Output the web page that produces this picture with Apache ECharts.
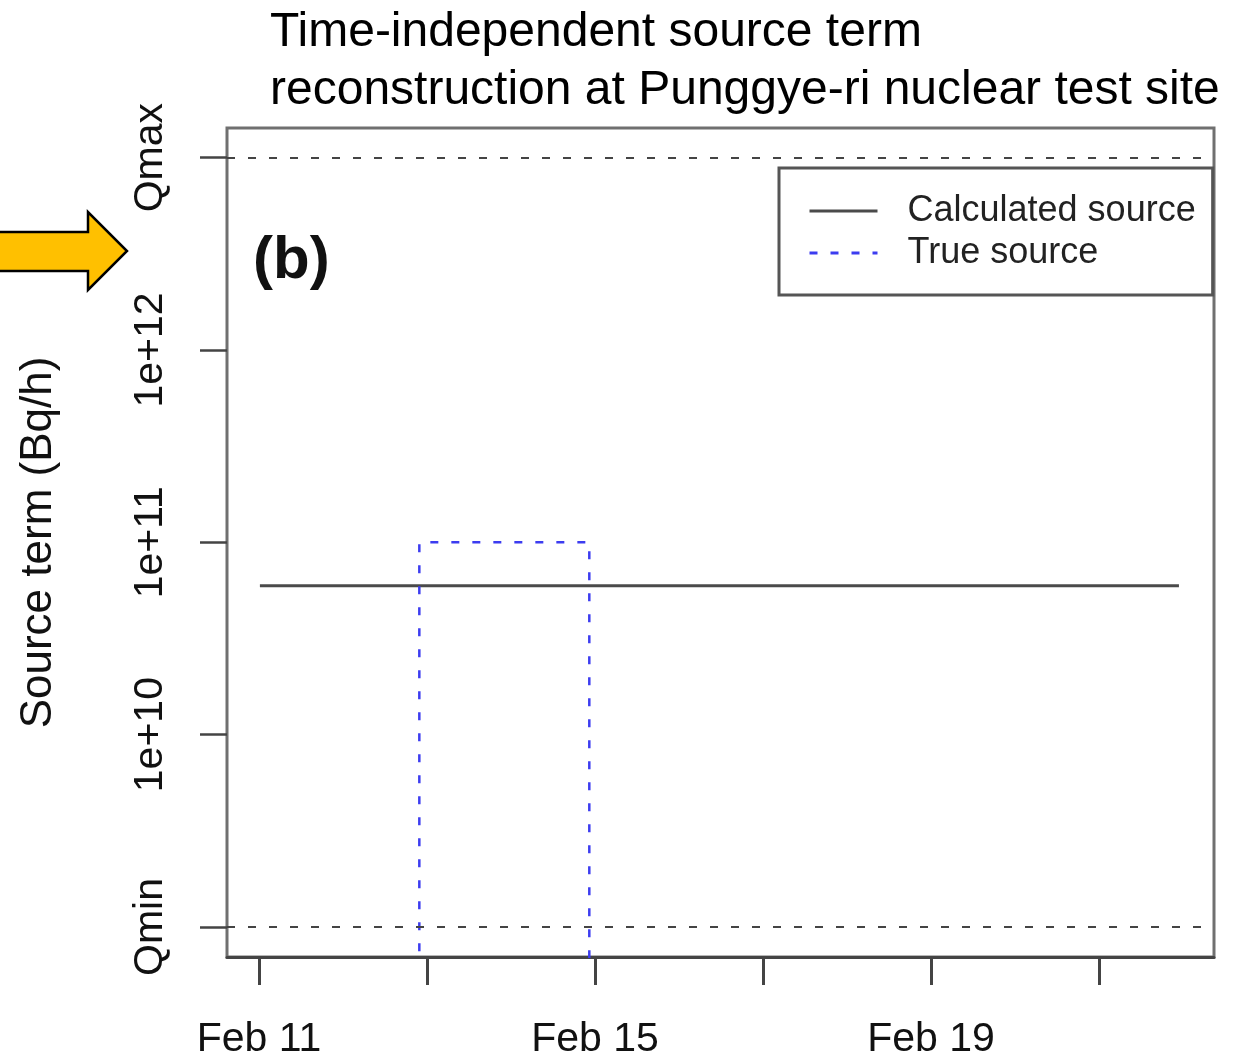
<!DOCTYPE html>
<html>
<head>
<meta charset="utf-8">
<script src="https://cdn.jsdelivr.net/npm/echarts@6/dist/echarts.min.js"></script>
<style>
html,body{margin:0;padding:0;background:#fff;}
#chart{width:1239px;height:1060px;}
</style>
</head>
<body>
<div id="chart"></div>
<script>
// ---- data ----
const calcTimes = ['2013-02-11T00:15:00Z', '2013-02-21T22:50:00Z'];
const calcValues = [5.95e10, 5.95e10];
const trueTimes = ['2013-02-12T21:48:00Z', '2013-02-12T21:48:00Z', '2013-02-14T22:22:00Z', '2013-02-14T22:22:00Z'];
const trueValues = [1e8, 1e11, 1e11, 1e8];
const qBounds = [1e9, 1e13];
const yTickValues = [1e9, 1e10, 1e11, 1e12, 1e13];
const yTickLabels = ['Qmin', '1e+10', '1e+11', '1e+12', 'Qmax'];
const xTickDates = ['2013-02-11T00:00:00Z', '2013-02-13T00:00:00Z', '2013-02-15T00:00:00Z', '2013-02-17T00:00:00Z', '2013-02-19T00:00:00Z', '2013-02-21T00:00:00Z'];
const xLabelDates = ['2013-02-11T00:00:00Z', '2013-02-15T00:00:00Z', '2013-02-19T00:00:00Z'];
const xLabelTexts = ['Feb 11', 'Feb 15', 'Feb 19'];
const xRange = ['2013-02-10T14:51:00Z', '2013-02-22T08:51:00Z'];
const yRange = [6.98e8, 1.426e13];

const FONT = '"Liberation Sans", Arial, sans-serif';
const ms = d => Date.parse(d);
const xLabelMs = xLabelDates.map(ms);

const chart = echarts.init(document.getElementById('chart'), null, {renderer: 'canvas'});
chart.setOption({
  animation: false,
  backgroundColor: '#ffffff',
  title: {
    text: 'Time-independent source term\nreconstruction at Punggye-ri nuclear test site',
    left: 270, top: 4, padding: 0,
    textStyle: {fontFamily: FONT, fontSize: 48, lineHeight: 58, fontWeight: 'normal', color: '#000'}
  },
  grid: {left: 227, right: 25, top: 128, bottom: 101, show: true, borderColor: '#707070', borderWidth: 3, containLabel: false},
  legend: {
    orient: 'vertical', left: 779, top: 168,
    borderColor: '#555', borderWidth: 3, backgroundColor: '#fff',
    padding: [25, 17, 24, 29],
    itemWidth: 68, itemHeight: 14, itemGap: 6,
    itemStyle: {opacity: 0},
    lineStyle: {width: 3},
    textStyle: {fontFamily: FONT, fontSize: 36, lineHeight: 36, color: '#222', padding: [0, 0, 0, 25]},
    data: ['Calculated source', 'True source']
  },
  xAxis: {
    type: 'value',
    min: ms(xRange[0]), max: ms(xRange[1]),
    splitLine: {show: false},
    axisLine: {show: true, onZero: false, lineStyle: {color: '#444', width: 3}},
    axisTick: {show: true, length: 28, lineStyle: {color: '#444', width: 3}, customValues: xTickDates.map(ms)},
    axisLabel: {
      customValues: xLabelMs,
      margin: 62, fontFamily: FONT, fontSize: 41, color: '#111',
      formatter: function (v) {
        let best = 0, bd = Infinity;
        xLabelMs.forEach((m, i) => { const d = Math.abs(m - v); if (d < bd) { bd = d; best = i; } });
        return xLabelTexts[best];
      }
    }
  },
  yAxis: {
    type: 'log', logBase: 10,
    min: yRange[0], max: yRange[1],
    name: 'Source term (Bq/h)', nameLocation: 'middle', nameGap: 166, nameRotate: 90,
    nameTextStyle: {fontFamily: FONT, fontSize: 44, color: '#111'},
    splitLine: {show: false},
    axisLine: {show: false},
    axisTick: {show: true, length: 27, lineStyle: {color: '#444', width: 2.5}, customValues: yTickValues},
    axisLabel: {
      customValues: yTickValues,
      rotate: 90, margin: 56, fontFamily: FONT, fontSize: 41, color: '#111',
      formatter: function (v) {
        let best = 0, bd = Infinity;
        yTickValues.forEach((t, i) => { const d = Math.abs(Math.log10(t) - Math.log10(v)); if (d < bd) { bd = d; best = i; } });
        return yTickLabels[best];
      }
    }
  },
  graphic: [
    {
      type: 'text', left: 253, top: 231,
      style: {text: '(b)', fontFamily: FONT, fontSize: 60, fontWeight: 'bold', fill: '#111'}
    },
    {
      type: 'polygon',
      shape: {points: [[-5, 232], [88, 232], [88, 212], [127, 251], [88, 290], [88, 271], [-5, 271]]},
      style: {fill: '#FFC000', stroke: '#000', lineWidth: 2.5}
    }
  ],
  series: [
    {
      name: 'Calculated source', type: 'line', symbol: 'none', showSymbol: false,
      data: calcTimes.map((t, i) => [ms(t), calcValues[i]]),
      lineStyle: {color: '#4a4a4a', width: 3}, itemStyle: {color: '#4a4a4a'},
      markLine: {
        silent: true, symbol: ['none', 'none'], label: {show: false},
        lineStyle: {color: '#444', width: 2, type: [8, 13]},
        data: qBounds.map(q => ({yAxis: q}))
      },
      z: 3
    },
    {
      name: 'True source', type: 'line', symbol: 'none', showSymbol: false,
      data: trueTimes.map((t, i) => [ms(t), trueValues[i]]),
      lineStyle: {color: '#3c3cf0', width: 2.5, type: [8, 13]}, itemStyle: {color: '#3c3cf0'},
      clip: true, z: 4
    }
  ]
});
</script>
</body>
</html>
